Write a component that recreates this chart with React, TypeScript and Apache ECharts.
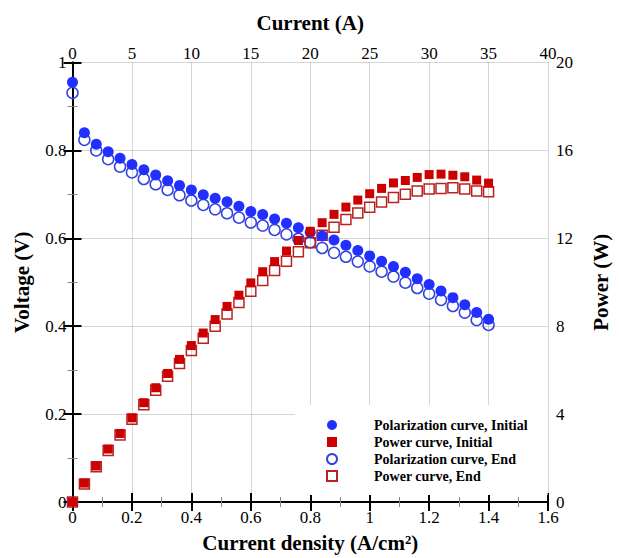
import React, { useEffect, useRef } from "react";
import * as echarts from "echarts";

const currentDensity = [
  0, 0.04, 0.08, 0.12, 0.16, 0.2, 0.24, 0.28, 0.32, 0.36, 0.4, 0.44, 0.48, 0.52, 0.56, 0.6, 0.64, 0.68,
  0.72, 0.76, 0.8, 0.84, 0.88, 0.92, 0.96, 1.0, 1.04, 1.08, 1.12, 1.16, 1.2, 1.24, 1.28, 1.32, 1.36, 1.4,
];

const voltageInitial = [
  0.955, 0.84, 0.814, 0.797, 0.782, 0.768, 0.756, 0.744, 0.731, 0.72, 0.71, 0.699, 0.691, 0.683, 0.673, 0.661,
  0.654, 0.644, 0.634, 0.624, 0.614, 0.605, 0.596, 0.584, 0.572, 0.56, 0.548, 0.536, 0.523, 0.508, 0.495, 0.48,
  0.465, 0.449, 0.431, 0.416,
];

const voltageEnd = [
  0.931, 0.824, 0.8, 0.78, 0.763, 0.75, 0.735, 0.723, 0.71, 0.698, 0.686, 0.676, 0.666, 0.657, 0.647, 0.636,
  0.629, 0.619, 0.609, 0.599, 0.591, 0.578, 0.567, 0.558, 0.547, 0.536, 0.524, 0.513, 0.499, 0.487, 0.474, 0.46,
  0.446, 0.431, 0.414, 0.403,
];

const powerInitial = [
  0, 0.86, 1.64, 2.41, 3.12, 3.83, 4.52, 5.2, 5.85, 6.49, 7.12, 7.69, 8.3, 8.9, 9.41, 9.97, 10.48, 10.94, 11.42,
  11.9, 12.32, 12.71, 13.09, 13.42, 13.74, 14.03, 14.27, 14.52, 14.63, 14.77, 14.9, 14.92, 14.87, 14.8, 14.65,
  14.51,
];

const powerEnd = [
  0, 0.82, 1.6, 2.34, 3.05, 3.77, 4.43, 5.08, 5.72, 6.3, 6.89, 7.45, 8.0, 8.55, 9.08, 9.59, 10.08, 10.54, 10.96,
  11.39, 11.8, 12.14, 12.5, 12.85, 13.15, 13.41, 13.65, 13.86, 14.01, 14.15, 14.24, 14.27, 14.3, 14.24, 14.15,
  14.12,
];

const seriesNames = [
  "Polarization curve, Initial",
  "Power curve, Initial",
  "Polarization curve, End",
  "Power curve, End",
];

const FONT = "Liberation Serif";
const BLUE = "#2230ff";
const BLUE_OPEN = "#3344dd";
const RED = "#cc0000";
const RED_OPEN = "#b82222";

const pair = (ys: number[]) => currentDensity.map((x, i) => [x, ys[i]]);

export default function App() {
  const ref = useRef<HTMLDivElement>(null);

  useEffect(() => {
    if (!ref.current) return;
    const chart = echarts.init(ref.current, undefined, { renderer: "svg" });

    const tickLabel = { fontFamily: FONT, fontSize: 17, color: "#000" };
    const nameStyle = { fontFamily: FONT, fontSize: 21, fontWeight: "bold" as const, color: "#000" };
    const axisLine = { show: true, lineStyle: { color: "#000", width: 2 } };
    const axisTick = { show: true, inside: true, length: 9, lineStyle: { color: "#000", width: 2 } };
    const minorTick = { show: true, splitNumber: 2, length: 5, lineStyle: { color: "#888", width: 1 } };
    const splitLine = { show: true, lineStyle: { color: "#aaa", type: "dotted" as const, width: 1 } };

    chart.setOption({
      animation: false,
      backgroundColor: "#fff",
      textStyle: { fontFamily: FONT },
      grid: { left: 72.5, right: 64, top: 62.5, bottom: 54.5, containLabel: false },
      legend: {
        orient: "vertical",
        left: 295,
        top: 405,
        backgroundColor: "#fff",
        padding: [13, 20, 12, 31],
        itemWidth: 10,
        itemHeight: 10,
        itemGap: 3,
        selectedMode: false,
        data: seriesNames,
        textStyle: {
          fontFamily: FONT,
          fontWeight: "bold",
          fontSize: 14,
          color: "#000",
          padding: [0, 0, 0, 32],
        },
      },
      xAxis: [
        {
          type: "value",
          position: "bottom",
          min: 0,
          max: 1.6,
          interval: 0.2,
          name: "Current density (A/cm²)",
          nameLocation: "middle",
          nameGap: 30,
          nameTextStyle: nameStyle,
          axisLine,
          axisTick,
          minorTick,
          splitLine,
          axisLabel: { ...tickLabel, margin: 7 },
        },
        {
          type: "value",
          position: "top",
          min: 0,
          max: 40,
          interval: 5,
          name: "Current (A)",
          nameLocation: "middle",
          nameGap: 29,
          nameTextStyle: nameStyle,
          axisLine,
          axisTick,
          minorTick,
          splitLine: { show: false },
          axisLabel: { ...tickLabel, margin: 1 },
        },
      ],
      yAxis: [
        {
          type: "value",
          position: "left",
          min: 0,
          max: 1,
          interval: 0.2,
          name: "Voltage (V)",
          nameLocation: "middle",
          nameGap: 40,
          nameRotate: 90,
          nameTextStyle: nameStyle,
          axisLine,
          axisTick,
          minorTick,
          splitLine,
          axisLabel: { ...tickLabel, margin: 6 },
        },
        {
          type: "value",
          position: "right",
          min: 0,
          max: 20,
          interval: 4,
          name: "Power (W)",
          nameLocation: "middle",
          nameGap: 42,
          nameRotate: 90,
          nameTextStyle: nameStyle,
          axisLine,
          axisTick,
          minorTick,
          splitLine: { show: false },
          axisLabel: { ...tickLabel, margin: 8 },
        },
      ],
      series: [
        {
          name: seriesNames[2],
          type: "scatter",
          xAxisIndex: 0,
          yAxisIndex: 0,
          symbol: "circle",
          symbolSize: 11,
          itemStyle: { color: "rgba(255,255,255,0)", borderColor: BLUE_OPEN, borderWidth: 1.5, opacity: 1 },
          data: pair(voltageEnd),
          z: 2,
        },
        {
          name: seriesNames[3],
          type: "scatter",
          xAxisIndex: 0,
          yAxisIndex: 1,
          symbol: "rect",
          symbolSize: 10,
          itemStyle: { color: "rgba(255,255,255,0)", borderColor: RED_OPEN, borderWidth: 1.5, opacity: 1 },
          data: pair(powerEnd),
          z: 2,
        },
        {
          name: seriesNames[0],
          type: "scatter",
          xAxisIndex: 0,
          yAxisIndex: 0,
          symbol: "circle",
          symbolSize: 11,
          itemStyle: { color: BLUE, opacity: 1 },
          data: pair(voltageInitial),
          z: 3,
        },
        {
          name: seriesNames[1],
          type: "scatter",
          xAxisIndex: 0,
          yAxisIndex: 1,
          symbol: "rect",
          symbolSize: 9,
          itemStyle: { color: RED, opacity: 1 },
          data: pair(powerInitial),
          z: 3,
        },
      ],
    });

    return () => chart.dispose();
  }, []);

  return (
    <div
      ref={ref}
      style={{ position: "fixed", left: 0, top: 0, width: 619, height: 558, background: "#fff" }}
    />
  );
}
